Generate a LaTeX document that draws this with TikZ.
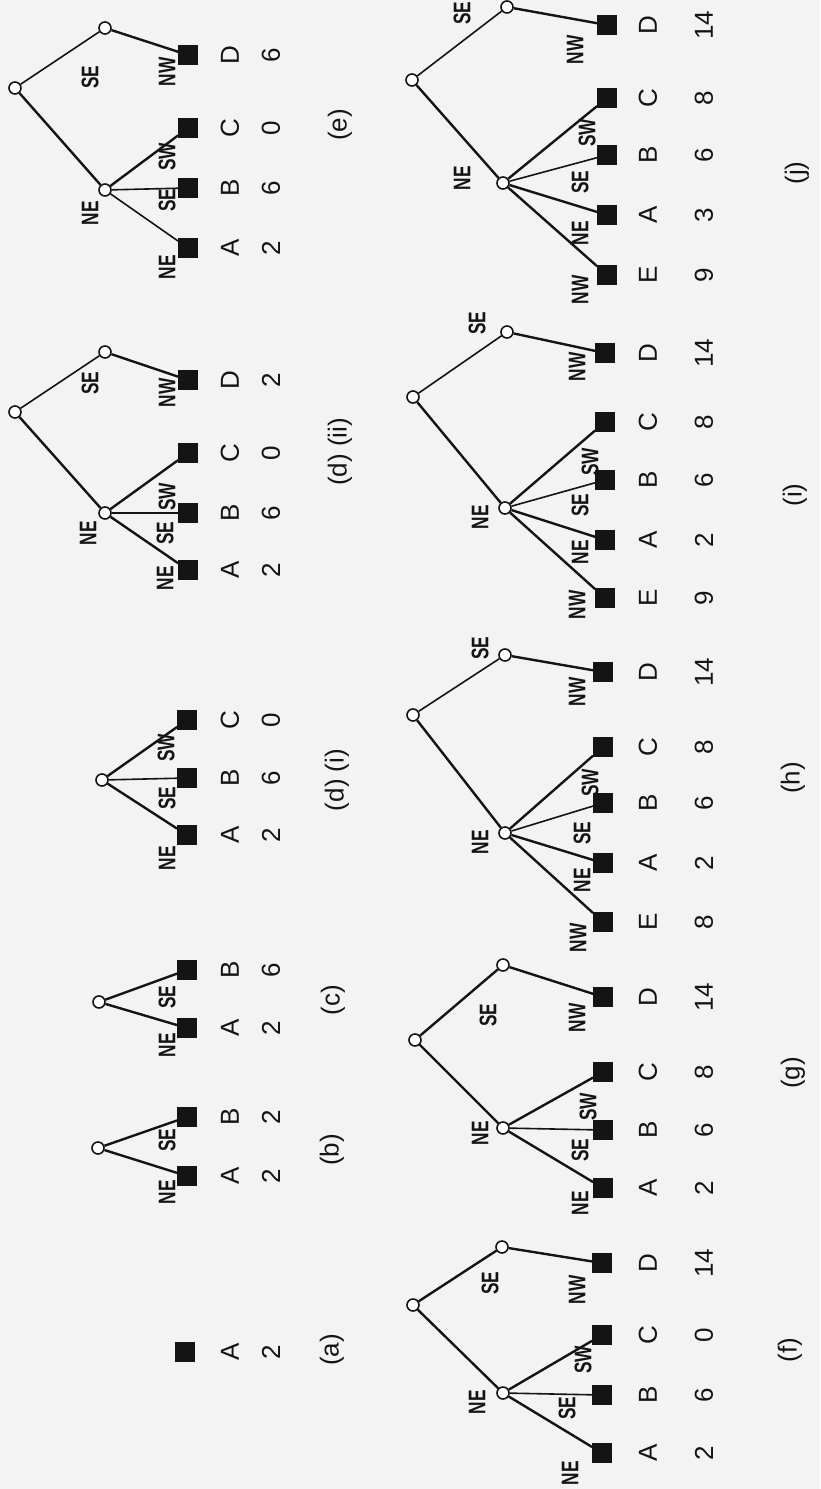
\documentclass[tikz,border=0pt]{standalone}
\usepackage{fontspec}
\setmainfont{Liberation Sans}
\newfontfamily\dirfont[FakeStretch=0.72]{Liberation Sans}
\usetikzlibrary{positioning}
\definecolor{Paper}{HTML}{F3F3F3}
\definecolor{Ink}{HTML}{141414}
\tikzset{
  % Node styles
  inner/.style={circle, draw=Ink, fill=white, line width=0.8pt, minimum size=6pt, inner sep=0pt},
  leaf/.style={rectangle, draw=Ink, fill=Ink, minimum size=9.5pt, inner sep=0pt},
  letter/.style={rotate=90, text=Ink, inner sep=0pt, font=\fontsize{13}{15}\selectfont},
  dirlabel/.style={rotate=90, text=Ink, inner sep=0pt, font=\dirfont\bfseries\fontsize{12}{14}\selectfont},
  caption/.style={rotate=90, text=Ink, inner sep=0pt, font=\fontsize{13}{15}\selectfont},
  % Line styles
  branch/.style={draw=Ink, line width=1.2pt},
  thinbranch/.style={draw=Ink, line width=0.8pt}
}
\begin{document}
\begin{tikzpicture}[x=0.5pt, y=-0.5pt]
  \fill[Paper] (0,0) rectangle (820,1489);
  \useasboundingbox (0,0) rectangle (820,1489);

  % (a)
  \node[leaf] (a-A) at (185,1352) {};
  \node[letter] (a-A-l) at (230,1352) {A};
  \node[letter] (a-A-v) at (271,1352) {2};
  \node[caption] (a-cap) at (332,1350) {(a)};

  % (b)
  \node[inner] (b) at (98,1148) {};
  \foreach \k/\y/\v in {A/1176/2, B/1117/2} {
    \node[leaf] (b-\k) at (187,\y) {};
    \node[letter] (b-\k-l) at (230,\y) {\k};
    \node[letter] (b-\k-v) at (271,\y) {\v};
  }
  \draw[branch] (b) -- (b-A) (b) -- (b-B);
  \node[dirlabel] (b-d1) at (167,1192) {NE};
  \node[dirlabel] (b-d2) at (167,1140) {SE};
  \node[caption] (b-cap) at (332,1150) {(b)};

  % (c)
  \node[inner] (c) at (99,1002) {};
  \foreach \k/\y/\v in {A/1028/2, B/970/6} {
    \node[leaf] (c-\k) at (187,\y) {};
    \node[letter] (c-\k-l) at (230,\y) {\k};
    \node[letter] (c-\k-v) at (271,\y) {\v};
  }
  \draw[branch] (c) -- (c-A) (c) -- (c-B);
  \node[dirlabel] (c-d1) at (167,1045) {NE};
  \node[dirlabel] (c-d2) at (167,997) {SE};
  \node[caption] (c-cap) at (333,1000) {(c)};

  % (d) (i)
  \node[inner] (di) at (102,780) {};
  \foreach \k/\y/\v in {A/835/2, B/778/6, C/720/0} {
    \node[leaf] (di-\k) at (187,\y) {};
    \node[letter] (di-\k-l) at (230,\y) {\k};
    \node[letter] (di-\k-v) at (271,\y) {\v};
  }
  \draw[branch] (di) -- (di-A) (di) -- (di-C);
  \draw[thinbranch] (di) -- (di-B);
  \foreach \t/\x/\y [count=\i] in {NE/167/858, SE/167/798, SW/166/748}
    \node[dirlabel] (di-d\i) at (\x,\y) {\t};
  \node[caption] (di-cap) at (337,780) {(d) (i)};

  % (d) (ii)
  \node[inner] (dii) at (15,412) {};
  \node[inner] (dii-n) at (105,513) {};
  \node[inner] (dii-s) at (105,352) {};
  \foreach \k/\y/\v in {A/570/2, B/513/6, C/453/0, D/380/2} {
    \node[leaf] (dii-\k) at (188,\y) {};
    \node[letter] (dii-\k-l) at (230,\y) {\k};
    \node[letter] (dii-\k-v) at (271,\y) {\v};
  }
  \draw[branch] (dii) -- (dii-n) (dii-n) -- (dii-A) (dii-n) -- (dii-C) (dii-s) -- (dii-D);
  \draw[thinbranch] (dii) -- (dii-s) (dii-n) -- (dii-B);
  \foreach \t/\x/\y [count=\i] in {NE/88/533, SE/90/383, NE/165/578, SE/165/533, SW/167/497, NW/167/393}
    \node[dirlabel] (dii-d\i) at (\x,\y) {\t};
  \node[caption] (dii-cap) at (340,452) {(d) (ii)};

  % (e)
  \node[inner] (e) at (15,88) {};
  \node[inner] (e-n) at (105,190) {};
  \node[inner] (e-s) at (105,28) {};
  \foreach \k/\y/\v in {A/248/2, B/188/6, C/128/0, D/55/6} {
    \node[leaf] (e-\k) at (188,\y) {};
    \node[letter] (e-\k-l) at (230,\y) {\k};
    \node[letter] (e-\k-v) at (271,\y) {\v};
  }
  \draw[branch] (e) -- (e-n) (e-n) -- (e-C) (e-s) -- (e-D);
  \draw[thinbranch] (e) -- (e-s) (e-n) -- (e-A) (e-n) -- (e-B);
  \foreach \t/\x/\y [count=\i] in {NE/90/213, SE/90/77, NE/167/267, SE/167/200, SW/167/157, NW/167/72}
    \node[dirlabel] (e-d\i) at (\x,\y) {\t};
  \node[caption] (e-cap) at (340,125) {(e)};

  % (f)
  \node[inner] (f) at (413,1305) {};
  \node[inner] (f-n) at (503,1393) {};
  \node[inner] (f-s) at (502,1247) {};
  \foreach \k/\y/\v in {A/1453/2, B/1395/6, C/1335/0, D/1263/14} {
    \node[leaf] (f-\k) at (602,\y) {};
    \node[letter] (f-\k-l) at (648,\y) {\k};
    \node[letter] (f-\k-v) at (704,\y) {\v};
  }
  \draw[branch] (f) -- (f-n) (f-n) -- (f-A) (f-n) -- (f-C) (f) -- (f-s) (f-s) -- (f-D);
  \draw[thinbranch] (f-n) -- (f-B);
  \foreach \t/\x/\y [count=\i] in {NE/477/1402, SE/490/1283, NE/570/1473, SE/567/1408, SW/583/1360, NW/577/1290}
    \node[dirlabel] (f-d\i) at (\x,\y) {\t};
  \node[caption] (f-cap) at (790,1350) {(f)};

  % (g)
  \node[inner] (g) at (415,1040) {};
  \node[inner] (g-n) at (503,1128) {};
  \node[inner] (g-s) at (503,965) {};
  \foreach \k/\y/\v in {A/1188/2, B/1130/6, C/1072/8, D/997/14} {
    \node[leaf] (g-\k) at (603,\y) {};
    \node[letter] (g-\k-l) at (648,\y) {\k};
    \node[letter] (g-\k-v) at (704,\y) {\v};
  }
  \draw[branch] (g) -- (g-n) (g-n) -- (g-A) (g-n) -- (g-C) (g) -- (g-s) (g-s) -- (g-D);
  \draw[thinbranch] (g-n) -- (g-B);
  \foreach \t/\x/\y [count=\i] in {NE/480/1133, SE/488/1015, NE/580/1203, SE/580/1150, SW/588/1107, NW/577/1018}
    \node[dirlabel] (g-d\i) at (\x,\y) {\t};
  \node[caption] (g-cap) at (793,1073) {(g)};

  % (h)
  \node[inner] (h) at (413,715) {};
  \node[inner] (h-n) at (505,833) {};
  \node[inner] (h-s) at (505,655) {};
  \foreach \k/\y/\v in {E/922/8, A/863/2, B/803/6, C/747/8, D/672/14} {
    \node[leaf] (h-\k) at (603,\y) {};
    \node[letter] (h-\k-l) at (648,\y) {\k};
    \node[letter] (h-\k-v) at (704,\y) {\v};
  }
  \draw[branch] (h) -- (h-n) (h-n) -- (h-E) (h-n) -- (h-A) (h-n) -- (h-C) (h-s) -- (h-D);
  \draw[thinbranch] (h) -- (h-s) (h-n) -- (h-B);
  \foreach \t/\x/\y [count=\i] in {NE/480/842, SE/480/648, NW/578/938, NE/582/880, SE/582/833, SW/590/783, NW/577/692}
    \node[dirlabel] (h-d\i) at (\x,\y) {\t};
  \node[caption] (h-cap) at (793,778) {(h)};

  % (i)
  \node[inner] (i) at (413,397) {};
  \node[inner] (i-n) at (505,508) {};
  \node[inner] (i-s) at (507,332) {};
  \foreach \k/\y/\v in {E/598/9, A/540/2, B/480/6, C/422/8, D/353/14} {
    \node[leaf] (i-\k) at (605,\y) {};
    \node[letter] (i-\k-l) at (648,\y) {\k};
    \node[letter] (i-\k-v) at (704,\y) {\v};
  }
  \draw[branch] (i) -- (i-n) (i-n) -- (i-E) (i-n) -- (i-A) (i-n) -- (i-C) (i-s) -- (i-D);
  \draw[thinbranch] (i) -- (i-s) (i-n) -- (i-B);
  \foreach \t/\x/\y [count=\i] in {NE/480/517, SE/477/323, NW/577/605, NE/580/552, SE/580/505, SW/590/462, NW/577/367}
    \node[dirlabel] (i-d\i) at (\x,\y) {\t};
  \node[caption] (i-cap) at (795,495) {(i)};

  % (j)
  \node[inner] (j) at (412,80) {};
  \node[inner] (j-n) at (503,183) {};
  \node[inner] (j-s) at (507,7) {};
  \foreach \k/\y/\v in {E/275/9, A/215/3, B/155/6, C/98/8, D/25/14} {
    \node[leaf] (j-\k) at (607,\y) {};
    \node[letter] (j-\k-l) at (648,\y) {\k};
    \node[letter] (j-\k-v) at (704,\y) {\v};
  }
  \draw[branch] (j) -- (j-n) (j-n) -- (j-E) (j-n) -- (j-A) (j-n) -- (j-C) (j-s) -- (j-D);
  \draw[thinbranch] (j) -- (j-s) (j-n) -- (j-B);
  \foreach \t/\x/\y [count=\i] in {NE/462/178, SE/462/13, NW/580/290, NE/580/233, SE/580/182, SW/587/133, NW/575/50}
    \node[dirlabel] (j-d\i) at (\x,\y) {\t};
  \node[caption] (j-cap) at (797,173) {(j)};
\end{tikzpicture}
\end{document}
